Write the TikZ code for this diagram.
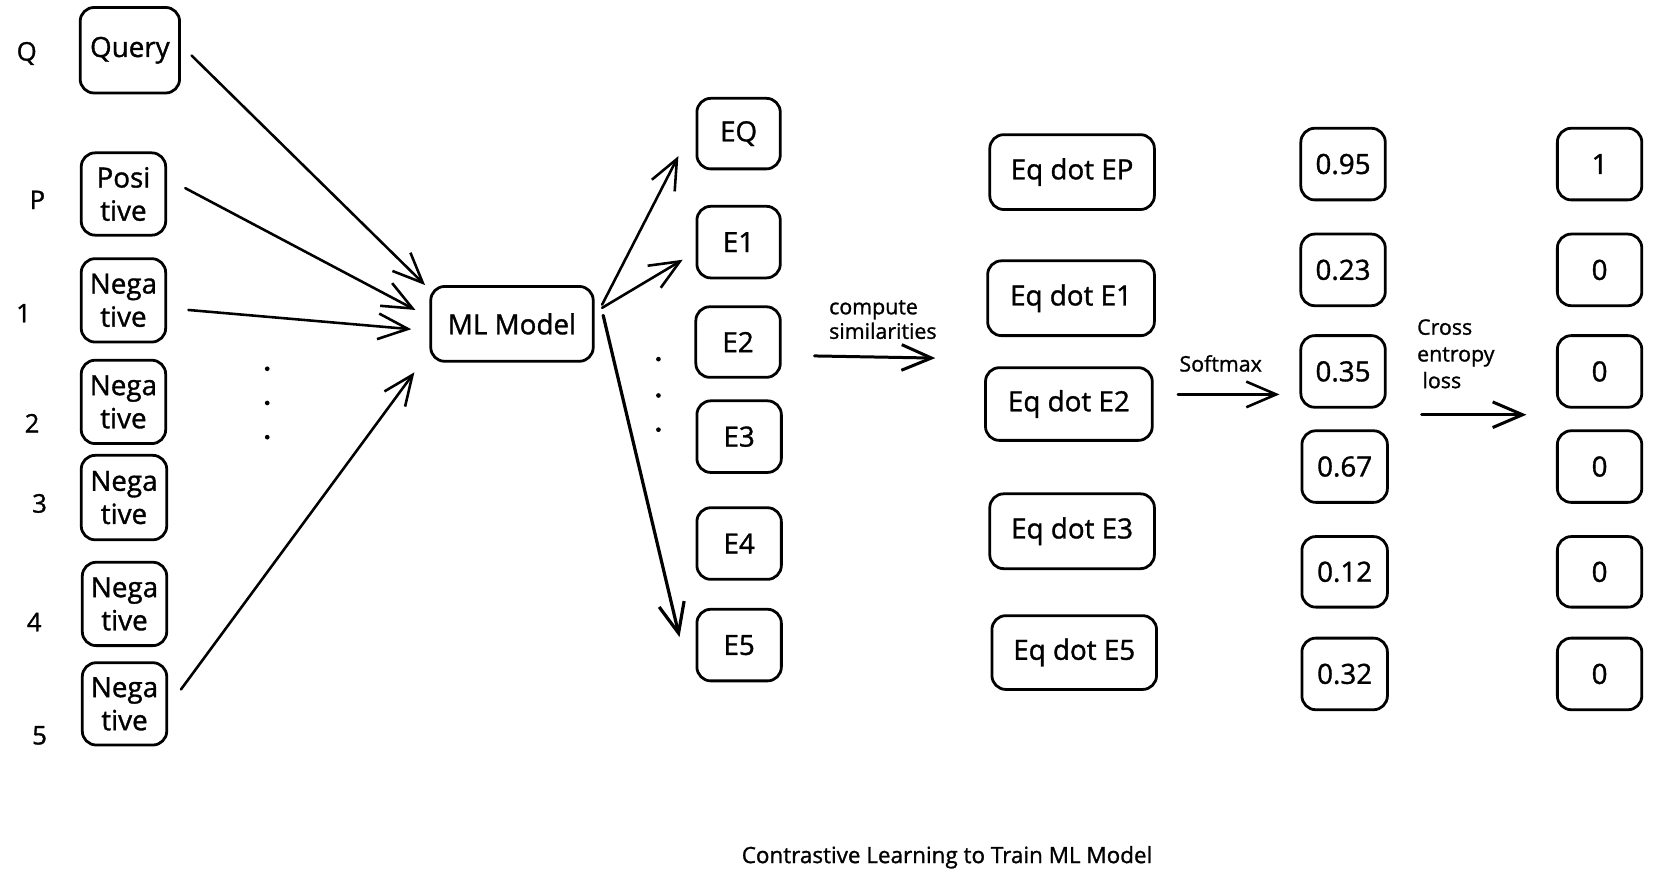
\documentclass[tikz,border=0pt]{standalone}
\usepackage{fontspec}
\setmainfont{Open Sans}[FakeBold=1.2]
\usetikzlibrary{arrows.meta}
\newcommand\bxfont{\fontsize{26}{31}\selectfont}
\newcommand\sidefont{\fontsize{24}{28}\selectfont}
\newcommand\lbfont{\fontsize{20}{25}\selectfont}
\newcommand\capfont{\fontsize{21}{25}\selectfont}
\begin{document}
\begin{tikzpicture}[x=1pt,y=-1pt,
  box/.style={draw, line width=2.6pt, rounded corners=13pt, inner sep=0pt, align=center, font=\bxfont},
  arr/.style={line width=2.4pt, line cap=round, line join=round, -{Straight Barb[length=28pt,width=24pt]}},
  side/.style={font=\sidefont, inner sep=0pt},
  lbl/.style={font=\lbfont, inner sep=0pt, align=left},
]
\useasboundingbox (0,0) rectangle (1568,833);

% left column
\node[box, minimum width=93pt, minimum height=80pt] (query) at (121.5,47) {Query};
\node[box, minimum width=79pt, minimum height=77pt] (pos) at (115.5,181.5) {Posi\\tive};
\node[box, minimum width=79pt, minimum height=78pt] (n1) at (115.5,281) {Nega\\tive};
\node[box, minimum width=79pt, minimum height=78pt] (n2) at (115.5,376) {Nega\\tive};
\node[box, minimum width=80pt, minimum height=79pt] (n3) at (116,465.5) {Nega\\tive};
\node[box, minimum width=79pt, minimum height=78pt] (n4) at (116.5,565) {Nega\\tive};
\node[box, minimum width=79pt, minimum height=77pt] (n5) at (116.5,658.5) {Nega\\tive};

\node[side] (lq) at (25,50) {Q};
\node[side] (lp) at (35,187) {P};
\node[side] (l1) at (22,293) {1};
\node[side] (l2) at (30,396) {2};
\node[side] (l3) at (37,471) {3};
\node[side] (l4) at (32,582) {4};
\node[side] (l5) at (37,688) {5};

\fill (250,345) circle (2.2pt) (250,377) circle (2.2pt) (250,409) circle (2.2pt);

% model
\node[box, minimum width=152pt, minimum height=70pt] (ml) at (479,303) {ML Model};

% embeddings
\node[box, minimum width=78pt, minimum height=66pt] (eq) at (691,125) {EQ};
\node[box, minimum width=78pt, minimum height=67pt] (e1) at (691,226.5) {E1};
\node[box, minimum width=79pt, minimum height=66pt] (e2) at (690.5,320) {E2};
\node[box, minimum width=79pt, minimum height=67pt] (e3) at (691.5,408.5) {E3};
\node[box, minimum width=79pt, minimum height=67pt] (e4) at (691.5,508.5) {E4};
\node[box, minimum width=79pt, minimum height=67pt] (e5) at (691.5,603.5) {E5};
\fill (616,336) circle (2.2pt) (616,370) circle (2.2pt) (616,402) circle (2.2pt);

% similarities
\node[box, minimum width=154pt, minimum height=70pt] (sp) at (1003,161) {Eq dot EP};
\node[box, minimum width=156pt, minimum height=70pt] (s1) at (1002,279) {Eq dot E1};
\node[box, minimum width=156pt, minimum height=68pt] (s2) at (1000,378) {Eq dot E2};
\node[box, minimum width=154pt, minimum height=70pt] (s3) at (1003,497) {Eq dot E3};
\node[box, minimum width=154pt, minimum height=69pt] (s5) at (1005,610.5) {Eq dot E5};

% probabilities
\node[box, minimum width=79pt, minimum height=67pt] (p95) at (1256.5,153.5) {0.95};
\node[box, minimum width=79pt, minimum height=67pt] (p23) at (1256.5,252.5) {0.23};
\node[box, minimum width=79pt, minimum height=67pt] (p35) at (1256.5,347.5) {0.35};
\node[box, minimum width=80pt, minimum height=67pt] (p67) at (1258,436.5) {0.67};
\node[box, minimum width=80pt, minimum height=66pt] (p12) at (1258,535) {0.12};
\node[box, minimum width=80pt, minimum height=67pt] (p32) at (1258,630.5) {0.32};

% targets
\node[box, minimum width=79pt, minimum height=67pt] (t1) at (1496.5,153.5) {1};
\node[box, minimum width=79pt, minimum height=67pt] (t2) at (1496.5,252.5) {0};
\node[box, minimum width=79pt, minimum height=67pt] (t3) at (1496.5,347.5) {0};
\node[box, minimum width=79pt, minimum height=67pt] (t4) at (1496.5,436.5) {0};
\node[box, minimum width=79pt, minimum height=66pt] (t5) at (1496.5,535) {0};
\node[box, minimum width=79pt, minimum height=67pt] (t6) at (1496.5,630.5) {0};

% inputs to model
\draw[arr] ([shift={(10,5)}]query.east) -- ([xshift=-4pt]ml.north west);
\draw[arr] ([shift={(17,-5.5)}]pos.east) -- ([shift={(-13,-13)}]ml.west);
\draw[arr] ([shift={(20,9)}]n1.east) -- ([shift={(-17,5)}]ml.west);
\draw[arr] ([shift={(12,-13.5)}]n5.east) -- ([shift={(-14,9)}]ml.south west);

% model to embeddings
\draw[arr] ([shift={(7,-18)}]ml.east) -- ([shift={(-16,21)}]eq.west);
\draw[arr] ([shift={(7,-15)}]ml.east) -- ([shift={(-12,16.5)}]e1.west);
\draw[arr, line width=3pt] ([shift={(8,-8)}]ml.east) -- ([shift={(-15,-7.5)}]e5.west);

% process arrows
\coordinate (cs1) at (762,333);
\coordinate (cs2) at (875,335);
\draw[arr, line width=2.8pt] (cs1) -- (cs2);
\node[lbl] (cslbl) at (826,299) {compute\\[-2pt]similarities};

\coordinate (sm1) at (1102,369);
\coordinate (sm2) at (1197,369);
\draw[arr] (sm1) -- (sm2);
\node[lbl] (smlbl) at (1142,340) {Softmax};

\coordinate (ce1) at (1330,388);
\coordinate (ce2) at (1428,388);
\draw[arr, line width=2.8pt] (ce1) -- (ce2);
\node[lbl] (celbl) at (1362,331) {Cross\\entropy\\\hspace{5pt}loss};

\node[font=\capfont, inner sep=0pt] (caption) at (886,802) {Contrastive Learning to Train ML Model};
\end{tikzpicture}
\end{document}
